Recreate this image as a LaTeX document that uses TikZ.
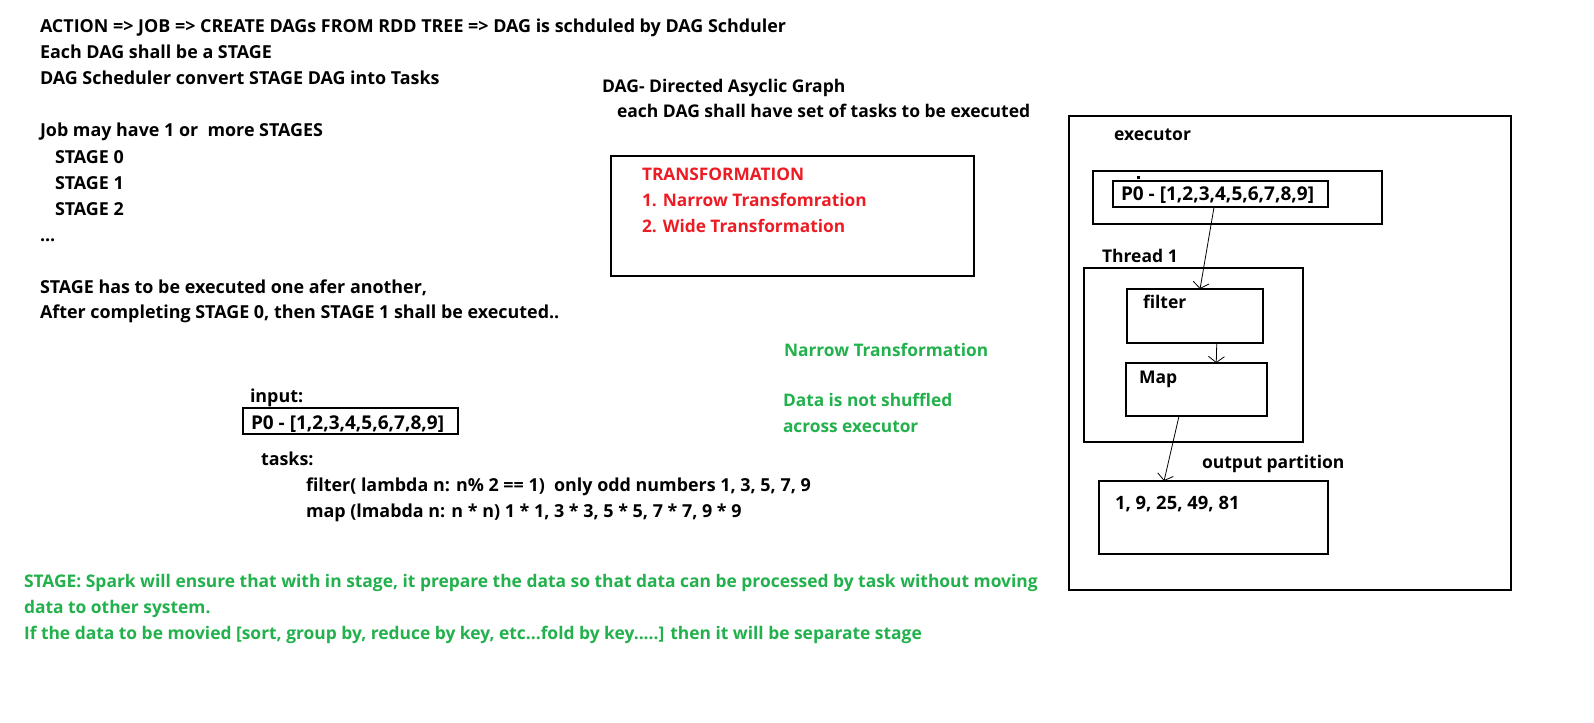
\documentclass[tikz,border=0pt]{standalone}
\usepackage{fontspec}
\setmainfont{Open Sans}
\usetikzlibrary{arrows.meta,calc}
\definecolor{pred}{HTML}{ED1C24}
\definecolor{pgreen}{HTML}{22B14C}
\begin{document}
\begin{tikzpicture}[x=1bp,y=-1bp,
  txt/.style={anchor=base west, inner sep=0pt, outer sep=0pt, font=\fontsize{17.9bp}{21bp}\selectfont\bfseries},
  txtb/.style={txt, font=\fontsize{17.5bp}{21bp}\selectfont\bfseries},
  txte/.style={txt, font=\fontsize{17.5bp}{21bp}\selectfont\bfseries},
  txtp/.style={txt, font=\fontsize{19bp}{21bp}\selectfont\bfseries},
  txtn/.style={txt, font=\fontsize{18.4bp}{21bp}\selectfont\bfseries},
  redtxt/.style={txt, text=pred, font=\fontsize{17.3bp}{21bp}\selectfont\bfseries},
  greentxt/.style={txt, text=pgreen, font=\fontsize{17.3bp}{21bp}\selectfont\bfseries},
  greenbtxt/.style={txt, text=pgreen, font=\fontsize{17.4bp}{21bp}\selectfont\bfseries},
  box/.style={draw=black, line width=1.4bp, anchor=north west, inner sep=0pt, outer sep=0pt},
  conn/.style={draw=black, line width=0.8bp, -{Straight Barb[length=6bp,width=16bp,line width=0.8bp]}}]
\useasboundingbox[fill=white] (0,0) rectangle (1594,723);

% left column
\node[txt] (l1) at (40,33) {ACTION => JOB => CREATE DAGs FROM RDD TREE => DAG is schduled by DAG Schduler};
\node[txt] (l2) at (40,59) {Each DAG shall be a STAGE};
\node[txt] (l3) at (40,85) {DAG Scheduler convert STAGE DAG into Tasks};
\node[txt] (l4) at (40,137) {Job may have 1 or~ more STAGES};
\node[txt] (l5) at (55,163) {STAGE 0};
\node[txt] (l6) at (55,189) {STAGE 1};
\node[txt] (l7) at (55,215) {STAGE 2};
\node[txt] (l8) at (40,241) {...};
\node[txt] (l9) at (40,293) {STAGE has to be executed one afer another,};
\node[txt] (l10) at (40,318) {After completing STAGE 0, then STAGE 1 shall be executed..};

% DAG notes
\node[txtb] (d1) at (602,93) {DAG- Directed Asyclic Graph};
\node[txtb] (d2) at (617,118) {each DAG shall have set of tasks to be executed};

% transformation box
\node[box, minimum width=363bp, minimum height=120bp] (tbox) at (611,156) {};
\node[redtxt] (r1) at (642,180) {TRANSFORMATION};
\node[redtxt] (r2) at (642,206) {1. Narrow Transfomration};
\node[redtxt] (r3) at (642,232) {2. Wide Transformation};

% green notes
\node[greentxt] (g1) at (784,356) {Narrow Transformation};
\node[greentxt] (g2) at (783,406) {Data is not shuffled};
\node[greentxt] (g3) at (783,432) {across executor};

% input and tasks
\node[txt] (inlbl) at (250,402) {input:};
\node[box, minimum width=215bp, minimum height=26bp] (inbox) at (243,408) {};
\node[txtp] (p0a) at (251,429) {P0 - [1,2,3,4,5,6,7,8,9]};
\node[txt] (tasks) at (261,465) {tasks:};
\node[txt] (ftask) at (306,491) {filter( lambda n: n\% 2 == 1)~ only odd numbers 1, 3, 5, 7, 9};
\node[txt] (mtask) at (306,517) {map (lmabda n: n * n) 1 * 1, 3 * 3, 5 * 5, 7 * 7, 9 * 9};

% bottom green
\node[greenbtxt] (s1) at (24,587) {STAGE: Spark will ensure that with in stage, it prepare the data so that data can be processed by task without moving};
\node[greenbtxt] (s2) at (24,613) {data to other system.};
\node[greenbtxt] (s3) at (24,639) {If the data to be movied [sort, group by, reduce by key, etc...fold by key.....] then it will be separate stage};

% executor
\node[box, minimum width=442bp, minimum height=474bp] (exec) at (1069,116) {};
\node[txte] (execlbl) at (1114,141) {executor};
\node[box, minimum width=289bp, minimum height=53bp] (pbox) at (1093,171) {};
\fill (1137,176) rectangle (1139.5,178.5);
\node[box, minimum width=215bp, minimum height=26bp] (p0box) at (1113,181) {};
\node[txtp] (p0b) at (1121,200) {P0 - [1,2,3,4,5,6,7,8,9]};
\node[txte] (thlbl) at (1102,262) {Thread 1};
\node[box, minimum width=219bp, minimum height=174bp] (thread) at (1084,268) {};
\node[box, minimum width=136bp, minimum height=54bp] (filter) at (1127,289) {};
\node[txte] (filterlbl) at (1143,308) {filter};
\node[box, minimum width=141bp, minimum height=53bp] (map) at (1126,363) {};
\node[txte] (maplbl) at (1139,383) {Map};
\node[txte] (outlbl) at (1202,468) {output partition};
\node[box, minimum width=229bp, minimum height=73bp] (out) at (1099,481) {};
\node[txtn] (nums) at (1115,509) {1, 9, 25, 49, 81};

\draw[conn] ($(p0box.south west)!0.47!(p0box.south east)$) -- ($(filter.north west)!0.537!(filter.north east)$);
\draw[conn] ($(filter.south west)!0.66!(filter.south east)$) -- ($(map.north west)!0.64!(map.north east)$);
\draw[conn] ($(map.south west)!0.376!(map.south east)$) -- ($(out.north west)!0.284!(out.north east)$);
\end{tikzpicture}
\end{document}
